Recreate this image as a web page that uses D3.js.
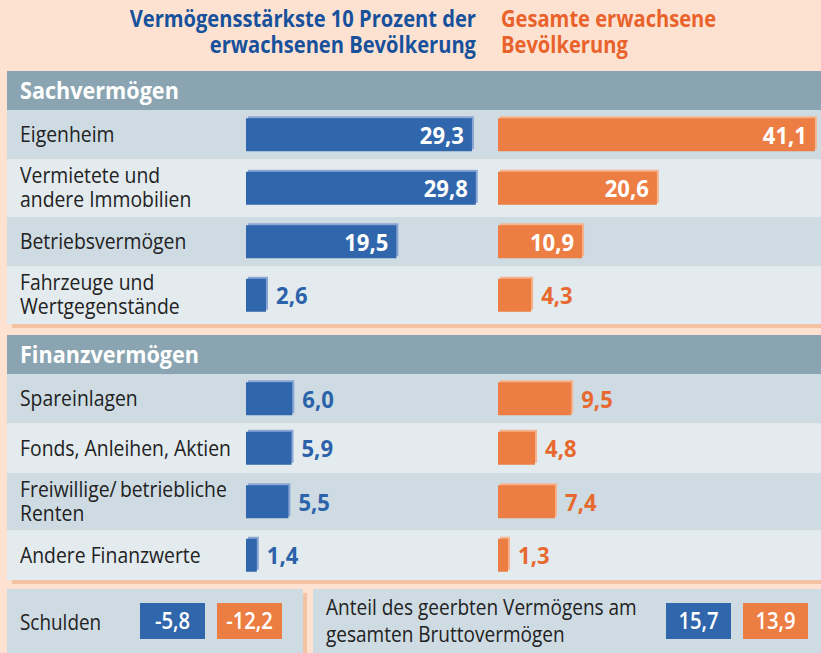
<!DOCTYPE html>
<html><head><meta charset="utf-8">
<script src="https://cdn.jsdelivr.net/npm/d3@7"></script>
<style>html,body{margin:0;padding:0;background:#fde2d2;} svg{display:block;}</style>
</head><body><svg id="c" width="821" height="653"></svg>
<script>
// ---------- DATA ----------
const titleTop10 = ["Vermögensstärkste 10 Prozent der", "erwachsenen Bevölkerung"];
const titleTotal = ["Gesamte erwachsene", "Bevölkerung"];
const sectionNames = ["Sachvermögen", "Finanzvermögen"];

const sachCategories = [["Eigenheim"], ["Vermietete und", "andere Immobilien"], ["Betriebsvermögen"], ["Fahrzeuge und", "Wertgegenstände"]];
const sachTop10 = [29.3, 29.8, 19.5, 2.6];
const sachTotal = [41.1, 20.6, 10.9, 4.3];

const finanzCategories = [["Spareinlagen"], ["Fonds, Anleihen, Aktien"], ["Freiwillige/\u2009betriebliche", "Renten"], ["Andere Finanzwerte"]];
const finanzTop10 = [6.0, 5.9, 5.5, 1.4];
const finanzTotal = [9.5, 4.8, 7.4, 1.3];

const schuldenLabel = ["Schulden"];
const schuldenValues = [-5.8, -12.2];
const erbeLabel = ["Anteil des geerbten Vermögens am", "gesamten Bruttovermögen"];
const erbeValues = [15.7, 13.9];

// ---------- STYLE ----------
const C = {
  peach: "#fde2d2", shadow: "#f2c2a3", header: "#8aa5b1",
  rowDark: "#cedbe3", rowLight: "#e3ebef",
  blue: "#3066ab", blueHi: "#8aa6d4", orange: "#ec7d43", orangeHi: "#f6b38d",
  blueText: "#2b62a9", orangeText: "#e8692f",
  titleBlue: "#17519c", titleOrange: "#e9622b", text: "#222222"
};
const FONT = "'Open Sans', 'Noto Sans', sans-serif";
const de = d3.formatLocale({decimal: ",", thousands: ".", grouping: [3], currency: ["", "€"], minus: "-"});
const fmt = de.format(".1f");

const svg = d3.select("#c");
svg.append("rect").attr("width", 821).attr("height", 653).attr("fill", C.peach);

// lines: array of strings; drawn as one text element with tspans
function txt(parent, x, y, lines, o = {}) {
  if (!Array.isArray(lines)) lines = [lines];
  const sx = o.sx ?? 0.88;
  const lh = o.lh ?? 24;
  const g = parent.append("g").attr("transform", `translate(${x},${y}) scale(${sx},1)`);
  const t = g.append("text")
    .attr("text-anchor", o.anchor || "start")
    .attr("font-family", FONT)
    .attr("font-size", o.size || 22)
    .attr("font-weight", o.weight || 400)
    .attr("fill", o.fill || C.text);
  lines.forEach((l, j) => t.append("tspan").attr("x", 0).attr("dy", j === 0 ? 0 : lh).text(l));
  return g;
}

// titles
txt(svg, 476, 27, titleTop10, {anchor: "end", size: 23, weight: 700, fill: C.titleBlue, sx: 0.875, lh: 26});
txt(svg, 501, 27, titleTotal, {size: 23, weight: 700, fill: C.titleOrange, sx: 0.875, lh: 26});

// scale
const x = d3.scaleLinear().domain([0, 45]).range([0, 347]);
const blueX0 = 246, orangeX0 = 498;
const barH = 33;

function drawSection(top, name, cats, top10, total) {
  const panelLeft = 7, panelRight = 821;
  const headerH = 39;
  const heights = cats.map(c => c.length > 1 ? 57.5 : 49.5);
  const totalH = headerH + d3.sum(heights);
  svg.append("rect").attr("x", panelLeft + 5).attr("y", top + totalH).attr("width", panelRight - panelLeft - 5).attr("height", 4).attr("fill", C.shadow);
  svg.append("rect").attr("x", panelLeft).attr("y", top).attr("width", panelRight - panelLeft).attr("height", headerH).attr("fill", C.header);
  txt(svg, 20, top + 28, name, {size: 24, weight: 700, fill: "#ffffff", sx: 0.9});
  let y = top + headerH;
  cats.forEach((cat, i) => {
    const h = heights[i];
    svg.append("rect").attr("x", panelLeft).attr("y", y).attr("width", panelRight - panelLeft).attr("height", h)
      .attr("fill", i % 2 === 0 ? C.rowDark : C.rowLight);
    const cy = y + h / 2;
    if (cat.length === 1) txt(svg, 20, cy + 7.5, cat, {size: 22});
    else txt(svg, 20, cy - 5, cat, {size: 22, lh: 24});
    [[top10[i], blueX0, C.blue, C.blueHi, C.blueText], [total[i], orangeX0, C.orange, C.orangeHi, C.orangeText]].forEach(([v, x0, col, hi, tcol]) => {
      const w = x(v);
      const by = cy - barH / 2;
      svg.append("rect").attr("x", x0 + 2).attr("y", by - 2).attr("width", w).attr("height", barH).attr("fill", hi);
      svg.append("rect").attr("x", x0).attr("y", by).attr("width", w).attr("height", barH).attr("fill", col);
      if (v >= 10) txt(svg, x0 + w - 8, cy + 9, fmt(v), {anchor: "end", size: 24, weight: 700, fill: "#ffffff", sx: 0.92});
      else txt(svg, x0 + w + 10, cy + 9, fmt(v), {size: 24, weight: 700, fill: tcol, sx: 0.92});
    });
    y += h;
  });
  return top + totalH;
}

drawSection(71, sectionNames[0], sachCategories, sachTop10, sachTotal);
drawSection(335, sectionNames[1], finanzCategories, finanzTop10, finanzTotal);

// bottom boxes
svg.append("rect").attr("x", 303).attr("y", 593).attr("width", 4).attr("height", 60).attr("fill", C.shadow);
svg.append("rect").attr("x", 7).attr("y", 589).attr("width", 296).attr("height", 64).attr("fill", C.rowDark);
svg.append("rect").attr("x", 313).attr("y", 589).attr("width", 508).attr("height", 64).attr("fill", C.rowDark);

txt(svg, 20, 630, schuldenLabel, {size: 22, sx: 0.86});
txt(svg, 326, 615, erbeLabel, {size: 22, sx: 0.865, lh: 27});

function valueBoxes(xs, vals) {
  vals.forEach((v, i) => {
    const col = i === 0 ? C.blue : C.orange;
    svg.append("rect").attr("x", xs[i]).attr("y", 603).attr("width", 65).attr("height", 36).attr("fill", col);
    txt(svg, xs[i] + 32.5, 629, fmt(v), {anchor: "middle", size: 23, weight: 600, fill: "#ffffff", sx: 0.88});
  });
}
valueBoxes([140, 217], schuldenValues);
valueBoxes([666, 743], erbeValues);
</script>
</body></html>
